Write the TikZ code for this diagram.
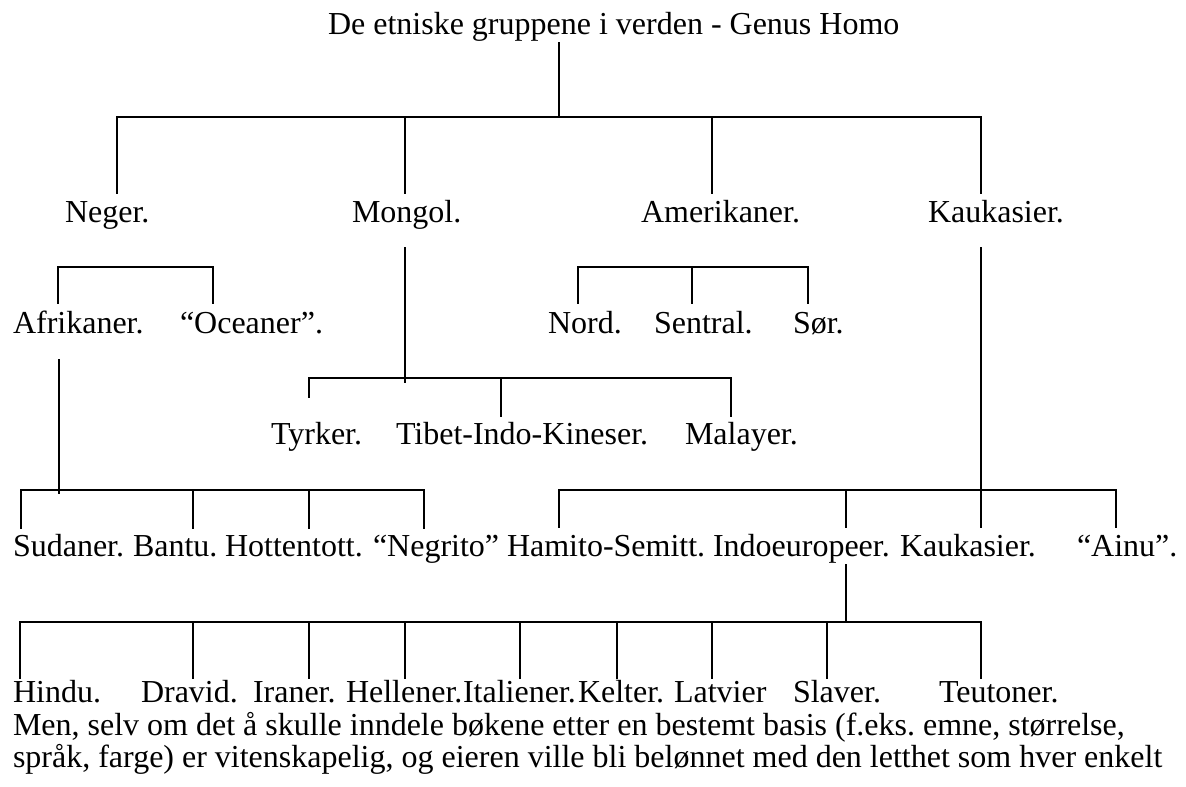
\documentclass[tikz,border=0pt]{standalone}
\usepackage{fontspec}
\setmainfont{Liberation Serif}
\frenchspacing
\begin{document}
\begin{tikzpicture}[x=0.75pt,y=-0.75pt,
  lbl/.style={anchor=base west,inner sep=0pt,outer sep=0pt,font=\fontsize{24}{28}\selectfont\frenchspacing},
  ln/.style={line width=0.9pt,line cap=rect}]
\useasboundingbox (0,0) rectangle (1186,787);
% ---------- labels ----------
\node[lbl] (title) at (328,35) {De etniske gruppene i verden - Genus Homo};
\node[lbl] (neger) at (65,223) {Neger.};
\node[lbl] (mongol) at (352,223) {Mongol.};
\node[lbl] (amerikaner) at (641,223) {Amerikaner.};
\node[lbl] (kaukasier) at (928,223) {Kaukasier.};
\node[lbl] (afrikaner) at (13,334) {Afrikaner.};
\node[lbl] (oceaner) at (180,334) {“Oceaner”.};
\node[lbl] (nord) at (548,334) {Nord.};
\node[lbl] (sentral) at (654,334) {Sentral.};
\node[lbl] (sor) at (793,334) {Sør.};
\node[lbl] (tyrker) at (271,445) {Tyrker.};
\node[lbl] (tibet) at (396,445) {Tibet-Indo-Kineser.};
\node[lbl] (malayer) at (685,445) {Malayer.};
\node[lbl] (sudaner) at (13,557) {Sudaner.};
\node[lbl] (bantu) at (133,557) {Bantu.};
\node[lbl] (hottentott) at (225,557) {Hottentott.};
\node[lbl] (negrito) at (373,557) {“Negrito”};
\node[lbl] (hamito) at (507,557) {Hamito-Semitt.};
\node[lbl] (indo) at (713,557) {Indoeuropeer.};
\node[lbl] (kaukasier2) at (900,557) {Kaukasier.};
\node[lbl] (ainu) at (1077,557) {“Ainu”.};
\node[lbl] (hindu) at (13,703) {Hindu.};
\node[lbl] (dravid) at (141,703) {Dravid.};
\node[lbl] (iraner) at (253,703) {Iraner.};
\node[lbl] (hellener) at (346,703) {Hellener.};
\node[lbl] (italiener) at (463,703) {Italiener.};
\node[lbl] (kelter) at (578,703) {Kelter.};
\node[lbl] (latvier) at (674,703) {Latvier};
\node[lbl] (slaver) at (793,703) {Slaver.};
\node[lbl] (teutoner) at (939,703) {Teutoner.};
\node[lbl] (para1) at (13,735) {Men, selv om det å skulle inndele bøkene etter en bestemt basis (f.eks. emne, størrelse,};
\node[lbl] (para2) at (13,767) {språk, farge) er vitenskapelig, og eieren ville bli belønnet med den letthet som hver enkelt};
% ---------- connector points ----------
\coordinate (t0) at (559,43);  \coordinate (t1) at (559,117);
\coordinate (b1a) at (117,117); \coordinate (b1b) at (405,117);
\coordinate (b1c) at (712,117); \coordinate (b1d) at (981,117);
\coordinate (e1a) at (117,193); \coordinate (e1b) at (405,193);
\coordinate (e1c) at (712,193); \coordinate (e1d) at (981,193);
% Neger bracket
\coordinate (n0) at (58,267); \coordinate (n1) at (213,267);
\coordinate (n0e) at (58,303); \coordinate (n1e) at (213,303);
% Amerikaner bracket
\coordinate (a0) at (578,267); \coordinate (a1) at (692,267); \coordinate (a2) at (808,267);
\coordinate (a0e) at (578,303); \coordinate (a1e) at (692,303); \coordinate (a2e) at (808,303);
% Mongol
\coordinate (m0) at (405,248); \coordinate (m1) at (405,382);
\coordinate (mb0) at (309,378); \coordinate (mb1) at (501,378); \coordinate (mb2) at (731,378);
\coordinate (mb0e) at (309,397); \coordinate (mb1e) at (501,416); \coordinate (mb2e) at (731,416);
% Kaukasier
\coordinate (k0) at (981,248); \coordinate (k1) at (981,490);
\coordinate (kb0) at (559,490); \coordinate (kb1) at (846,490); \coordinate (kb3) at (1116,490);
\coordinate (kb0e) at (559,527); \coordinate (kb1e) at (846,527); \coordinate (kb2e) at (981,527); \coordinate (kb3e) at (1116,527);
% Afrikaner
\coordinate (f0) at (59,360); \coordinate (f1) at (59,493);
\coordinate (fb0) at (21,490); \coordinate (fb1) at (193,490); \coordinate (fb2) at (309,490); \coordinate (fb3) at (424,490);
\coordinate (fb0e) at (21,528); \coordinate (fb1e) at (193,528); \coordinate (fb2e) at (309,528); \coordinate (fb3e) at (424,528);
% Indoeuropeer
\coordinate (i0) at (846,565); \coordinate (i1) at (846,622);
\foreach \nm/\xx in {h1/20,h2/193,h3/309,h4/405,h5/520,h6/617,h7/712,h8/827,h9/981}{
  \coordinate (\nm) at (\xx,622); \coordinate (\nm e) at (\xx,678);}
% ---------- connectors ----------
\draw[ln] (t0) -- (t1);
\draw[ln] (e1a) -- (b1a) -- (b1d) -- (e1d);
\draw[ln] (b1b) -- (e1b);
\draw[ln] (b1c) -- (e1c);
\draw[ln] (n0e) -- (n0) -- (n1) -- (n1e);
\draw[ln] (a0e) -- (a0) -- (a2) -- (a2e);
\draw[ln] (a1) -- (a1e);
\draw[ln] (m0) -- (m1);
\draw[ln] (mb0e) -- (mb0) -- (mb2) -- (mb2e);
\draw[ln] (mb1) -- (mb1e);
\draw[ln] (k0) -- (k1);
\draw[ln] (kb0e) -- (kb0) -- (kb3) -- (kb3e);
\draw[ln] (kb1) -- (kb1e);
\draw[ln] (k1) -- (kb2e);
\draw[ln] (f0) -- (f1);
\draw[ln] (fb0e) -- (fb0) -- (fb3) -- (fb3e);
\draw[ln] (fb1) -- (fb1e);
\draw[ln] (fb2) -- (fb2e);
\draw[ln] (i0) -- (i1);
\draw[ln] (h1e) -- (h1) -- (h9) -- (h9e);
\foreach \nm in {h2,h3,h4,h5,h6,h7,h8}{\draw[ln] (\nm) -- (\nm e);}
\end{tikzpicture}
\end{document}
